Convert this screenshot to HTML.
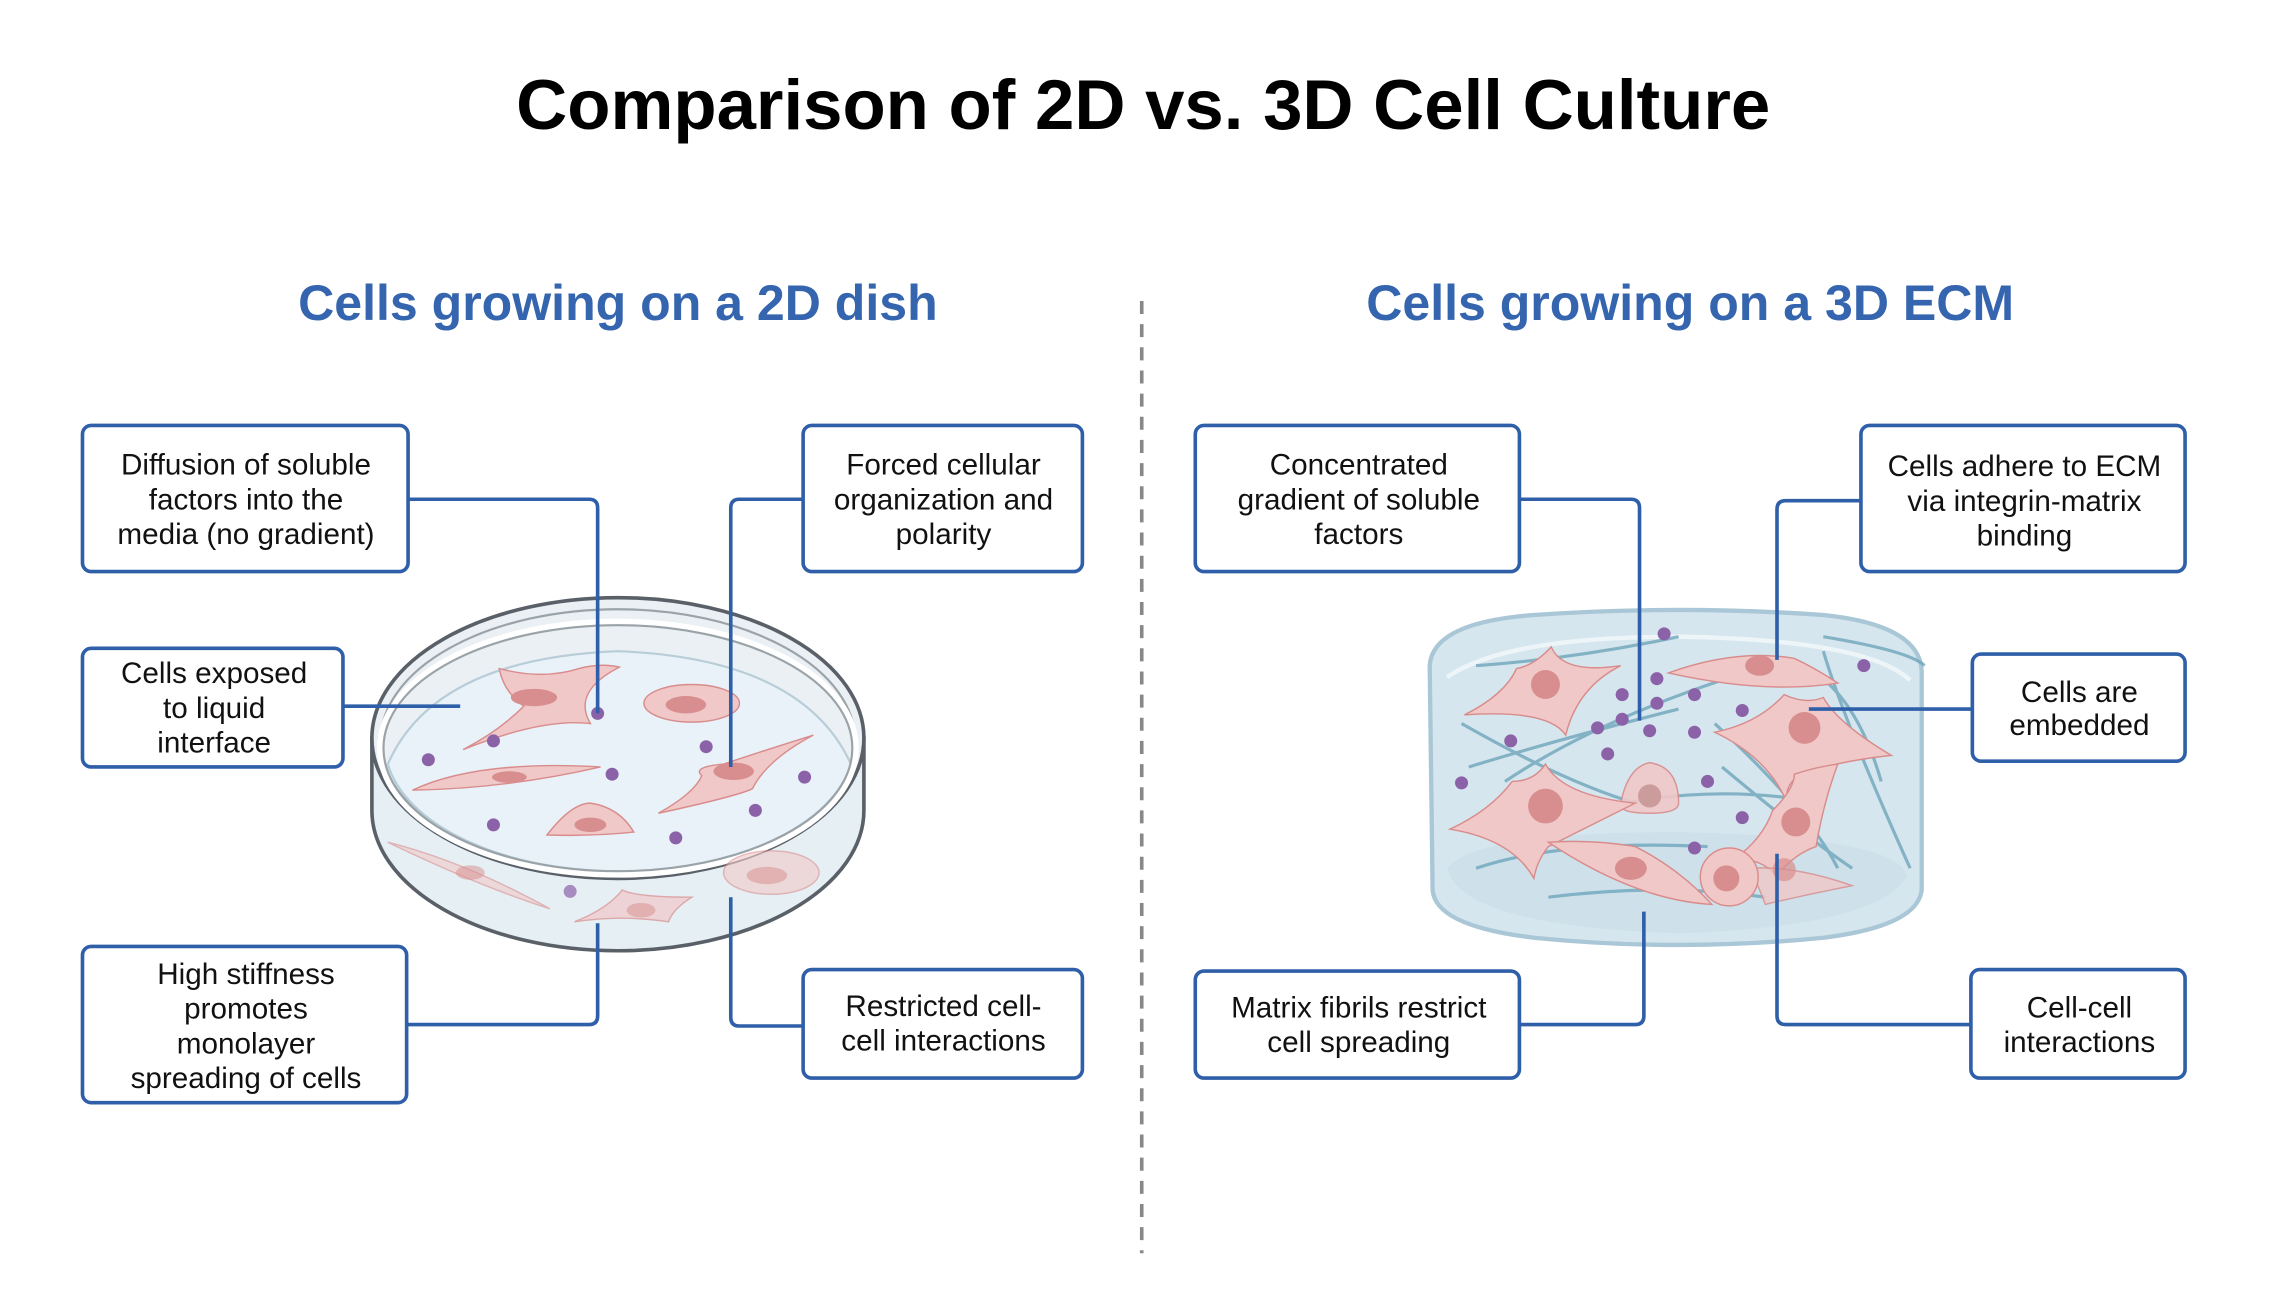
<!DOCTYPE html>
<html><head><meta charset="utf-8"><style>
html,body{margin:0;padding:0;background:#fff;}
svg{display:block;}
text{font-family:"Liberation Sans",sans-serif;}
</style></head><body>
<svg width="2269" height="1316" viewBox="0 0 1568 909.4" preserveAspectRatio="none" xmlns="http://www.w3.org/2000/svg">
<rect width="1568" height="910" fill="#fff"/>
<text x="790" y="89" text-anchor="middle" font-size="48.9" font-weight="bold" fill="#000">Comparison of 2D vs. 3D Cell Culture</text>
<text x="427" y="221" text-anchor="middle" font-size="34.6" font-weight="bold" fill="#3565ae">Cells growing on a 2D dish</text>
<text x="1168" y="221" text-anchor="middle" font-size="34.6" font-weight="bold" fill="#3565ae">Cells growing on a 3D ECM</text>
<line x1="789" y1="208" x2="789" y2="866" stroke="#888" stroke-width="2.5" stroke-dasharray="9,7"/>

<!-- 2D dish -->
<g>
<path d="M257,510 L257,560 A170,97 0 0 0 597,560 L597,510 Z" fill="#e6eff4" stroke="#5a6068" stroke-width="2.5"/>
<ellipse cx="427" cy="510" rx="170" ry="97" fill="#eaf0f3" stroke="#5a6068" stroke-width="2.5"/>
<ellipse cx="427" cy="512" rx="164" ry="91" fill="none" stroke="#9aa3a8" stroke-width="1.5"/>
<path d="M268,528 Q300,455 427,450 Q555,455 588,528 A162,88 0 0 1 268,528 Z" fill="#e8f2f8" stroke="#b8cdd8" stroke-width="1.5"/>
<ellipse cx="427" cy="517" rx="164" ry="87" fill="none" stroke="#ffffff" stroke-width="5"/>
<ellipse cx="427" cy="517" rx="162" ry="85" fill="none" stroke="#9aa3a8" stroke-width="1.5"/>
<g fill="#f0c8c8" stroke="#d98c8c" stroke-width="1">
<path d="M320,518 Q345,505 362,488 Q348,478 345,462 Q375,470 400,462 Q415,458 428,461 Q395,478 408,500 Q375,496 320,518Z"/>
<ellipse cx="478" cy="486" rx="33" ry="13"/>
<path d="M285,546 Q330,525 415,530 Q350,545 285,546Z"/>
<path d="M455,562 Q480,548 485,536 Q478,530 500,528 Q530,518 562,508 Q530,525 520,545 Q510,550 455,562Z"/>
<path d="M378,577 Q395,555 408,555 Q428,558 438,575 Q410,578 378,577Z"/>
<path d="M268,582 Q320,595 380,628 Q330,612 268,582Z" opacity="0.6"/>
<path d="M397,637 Q420,628 430,615 Q440,620 478,620 Q465,628 462,637 Q430,632 397,637Z" opacity="0.7"/>
<ellipse cx="533" cy="603" rx="33" ry="15" opacity="0.6"/>
</g>
<g fill="#d88e8e">
<ellipse cx="369" cy="482" rx="16" ry="6"/><ellipse cx="474" cy="487" rx="14" ry="6"/>
<ellipse cx="352" cy="537" rx="12" ry="4"/><ellipse cx="507" cy="533" rx="14" ry="6"/>
<ellipse cx="408" cy="570" rx="11" ry="5"/><ellipse cx="325" cy="603" rx="10" ry="5" opacity="0.5"/>
<ellipse cx="443" cy="629" rx="10" ry="5" opacity="0.5"/><ellipse cx="530" cy="605" rx="14" ry="6" opacity="0.5"/>
</g>
<g fill="#8b62a8">
<circle cx="413" cy="493" r="4.5"/><circle cx="341" cy="512" r="4.5"/><circle cx="296" cy="525" r="4.5"/>
<circle cx="423" cy="535" r="4.5"/><circle cx="488" cy="516" r="4.5"/><circle cx="556" cy="537" r="4.5"/>
<circle cx="522" cy="560" r="4.5"/><circle cx="341" cy="570" r="4.5"/><circle cx="467" cy="579" r="4.5"/>
<circle cx="394" cy="616" r="4.5" opacity="0.7"/>
</g>
</g>

<!-- 3D ECM -->
<g>
<path d="M988,460 Q990,430 1060,425 Q1160,418 1260,425 Q1328,432 1328,465 L1328,615 Q1325,640 1260,648 Q1160,658 1060,648 Q992,640 990,615 Z" fill="#d6e6ee" stroke="#a9c7d6" stroke-width="3"/>
<path d="M1000,600 Q1020,575 1160,575 Q1310,578 1318,605 Q1300,640 1160,645 Q1010,640 1000,600Z" fill="#c8dde7" opacity="0.6"/>
<path d="M1000,468 Q1040,440 1160,440 Q1290,442 1320,470" fill="none" stroke="#eef5f8" stroke-width="3"/>
<g fill="none" stroke="#6fa6bc" stroke-width="2.2" opacity="0.8">
<path d="M1020,460 Q1090,455 1160,440"/><path d="M1010,500 Q1080,540 1130,555"/>
<path d="M1015,530 Q1080,510 1160,490"/><path d="M1040,540 Q1100,500 1190,470"/>
<path d="M1260,450 Q1275,500 1320,600"/><path d="M1260,440 Q1320,450 1330,460"/>
<path d="M1185,500 Q1250,560 1270,600"/><path d="M1020,600 Q1080,580 1180,585"/>
<path d="M1070,620 Q1150,610 1220,620"/><path d="M1190,530 Q1250,580 1280,600"/>
<path d="M1235,455 Q1280,470 1300,540"/><path d="M1100,560 Q1180,540 1260,555"/>
</g>
<g fill="#f0c8c8" stroke="#d98c8c" stroke-width="1">
<path d="M1012,494 Q1040,480 1048,462 Q1060,460 1072,447 Q1080,466 1120,460 Q1090,475 1082,508 Q1070,490 1012,494Z"/>
<path d="M1153,465 Q1200,448 1240,455 Q1255,462 1270,472 Q1220,480 1153,465Z"/>
<path d="M1185,506 Q1215,500 1233,480 Q1248,487 1260,482 Q1270,500 1307,522 Q1270,526 1244,535 Q1230,545 1237,560 Q1225,525 1185,506Z"/>
<path d="M1140,527 Q1160,530 1160,555 Q1160,562 1140,562 Q1118,562 1120,555 Q1125,530 1140,527Z" opacity="0.9"/>
<path d="M1002,573 Q1030,560 1045,540 Q1060,540 1068,528 Q1080,550 1130,555 Q1100,570 1070,585 Q1062,595 1060,607 Q1045,580 1002,573Z"/>
<path d="M1070,582 Q1100,580 1130,585 Q1160,600 1183,625 Q1130,622 1070,582Z"/>
<path d="M1198,594 Q1218,580 1225,560 Q1240,545 1240,535 Q1255,530 1270,528 Q1260,555 1255,585 Q1240,590 1228,605 Q1215,592 1198,594Z"/>
<path d="M1210,600 Q1240,598 1280,612 Q1240,620 1220,625 Z" opacity="0.8"/>
<circle cx="1195" cy="606" r="20"/>
</g>
<g fill="#d88e8e">
<circle cx="1068" cy="473" r="10"/><ellipse cx="1216" cy="460" rx="10" ry="7"/>
<circle cx="1247" cy="503" r="11"/><circle cx="1140" cy="550" r="8" fill="#cc9b9b"/>
<circle cx="1068" cy="557" r="12"/><ellipse cx="1127" cy="600" rx="11" ry="8"/>
<circle cx="1241" cy="568" r="10"/><circle cx="1193" cy="607" r="9"/><circle cx="1233" cy="601" r="8" opacity="0.7"/>
</g>
<g fill="#8b62a8">
<circle cx="1150" cy="438" r="4.5"/><circle cx="1288" cy="460" r="4.5"/><circle cx="1145" cy="469" r="4.5"/>
<circle cx="1121" cy="480" r="4.5"/><circle cx="1171" cy="480" r="4.5"/><circle cx="1145" cy="486" r="4.5"/>
<circle cx="1204" cy="491" r="4.5"/><circle cx="1121" cy="497" r="4.5"/><circle cx="1104" cy="503" r="4.5"/>
<circle cx="1140" cy="505" r="4.5"/><circle cx="1171" cy="506" r="4.5"/><circle cx="1111" cy="521" r="4.5"/>
<circle cx="1044" cy="512" r="4.5"/><circle cx="1010" cy="541" r="4.5"/><circle cx="1180" cy="540" r="4.5"/>
<circle cx="1204" cy="565" r="4.5"/><circle cx="1171" cy="586" r="4.5"/>
</g>
</g>

<!-- connectors -->
<g fill="none" stroke="#2f5fa8" stroke-width="2.5" stroke-linejoin="round">
<path d="M282,345 L407,345 Q413,345 413,351 L413,493"/>
<path d="M555,345 L511,345 Q505,345 505,351 L505,530"/>
<path d="M237,488 L318,488"/>
<path d="M281,708 L407,708 Q413,708 413,702 L413,638"/>
<path d="M555,709 L511,709 Q505,709 505,703 L505,620"/>
<path d="M1050,345 L1127,345 Q1133,345 1133,351 L1133,498"/>
<path d="M1286,346 L1234,346 Q1228,346 1228,352 L1228,456"/>
<path d="M1363,490 L1250,490"/>
<path d="M1050,708 L1130,708 Q1136,708 1136,702 L1136,630"/>
<path d="M1362,708 L1234,708 Q1228,708 1228,702 L1228,590"/>
</g>

<!-- boxes -->
<g fill="#fff" stroke="#2f5fa8" stroke-width="2.5">
<rect x="57" y="294" width="225" height="101" rx="6"/>
<rect x="555" y="294" width="193" height="101" rx="6"/>
<rect x="57" y="448" width="180" height="82" rx="6"/>
<rect x="57" y="654" width="224" height="108" rx="6"/>
<rect x="555" y="670" width="193" height="75" rx="6"/>
<rect x="826" y="294" width="224" height="101" rx="6"/>
<rect x="1286" y="294" width="224" height="101" rx="6"/>
<rect x="1363" y="452" width="147" height="74" rx="6"/>
<rect x="826" y="671" width="224" height="74" rx="6"/>
<rect x="1362" y="670" width="148" height="75" rx="6"/>
</g>
<g font-size="20.5" fill="#111" text-anchor="middle">
<text x="170" y="328">Diffusion of soluble</text><text x="170" y="352">factors into the</text><text x="170" y="376">media (no gradient)</text>
<text x="652" y="328">Forced cellular</text><text x="652" y="352">organization and</text><text x="652" y="376">polarity</text>
<text x="148" y="472">Cells exposed</text><text x="148" y="496">to liquid</text><text x="148" y="520">interface</text>
<text x="170" y="680">High stiffness</text><text x="170" y="704">promotes</text><text x="170" y="728">monolayer</text><text x="170" y="752">spreading of cells</text>
<text x="652" y="702">Restricted cell-</text><text x="652" y="726">cell interactions</text>
<text x="939" y="328">Concentrated</text><text x="939" y="352">gradient of soluble</text><text x="939" y="376">factors</text>
<text x="1399" y="329">Cells adhere to ECM</text><text x="1399" y="353">via integrin-matrix</text><text x="1399" y="377">binding</text>
<text x="1437" y="485">Cells are</text><text x="1437" y="508">embedded</text>
<text x="939" y="703">Matrix fibrils restrict</text><text x="939" y="727">cell spreading</text>
<text x="1437" y="703">Cell-cell</text><text x="1437" y="727">interactions</text>
</g>
</svg>
</body></html>
